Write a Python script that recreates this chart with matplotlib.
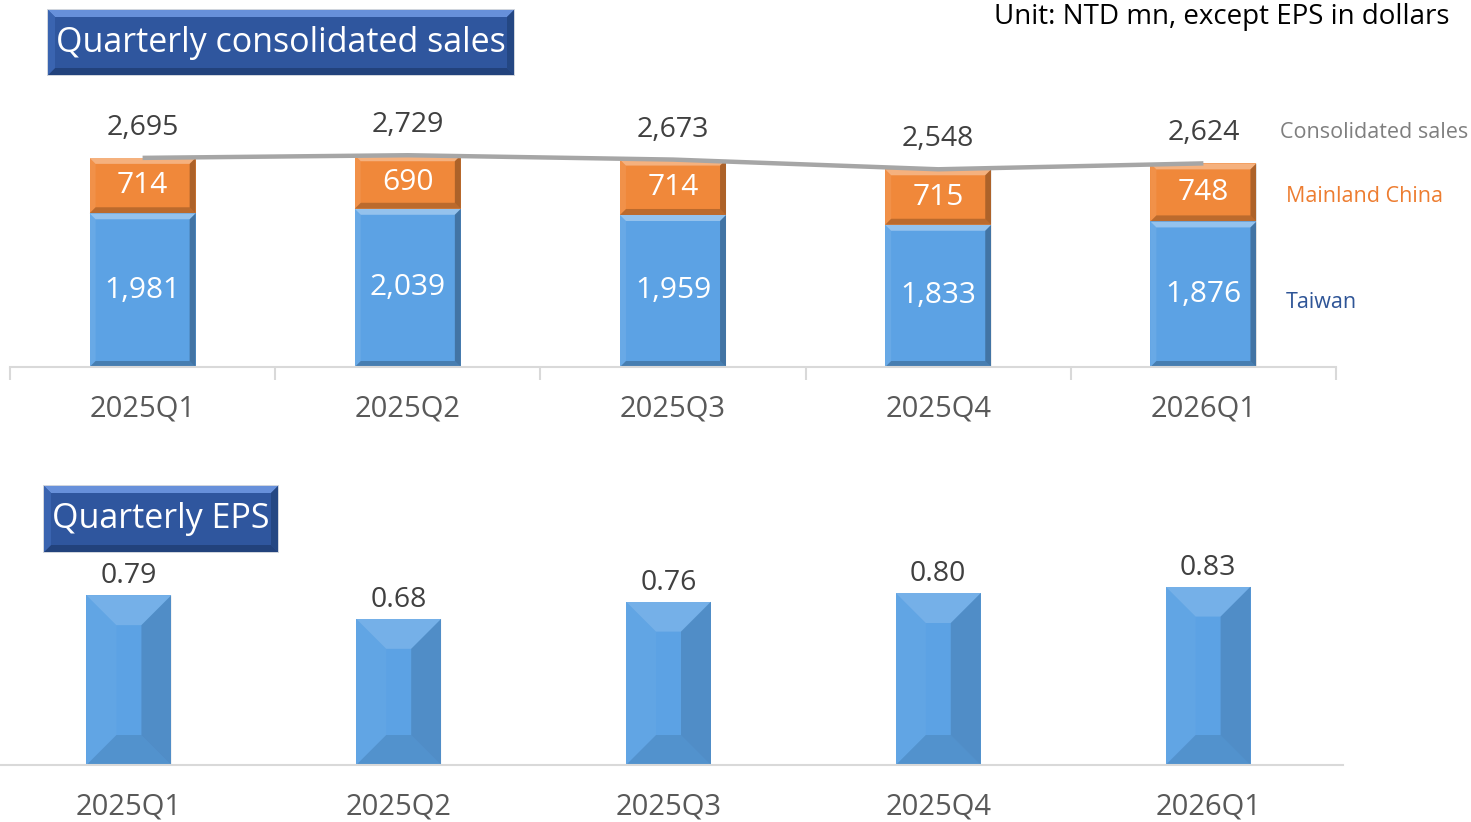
import matplotlib
matplotlib.use("Agg")
import matplotlib.pyplot as plt
from matplotlib.patches import Polygon, Rectangle
from matplotlib.transforms import IdentityTransform

plt.rcParams['font.family'] = ['Open Sans', 'DejaVu Sans']

quarters = ["2025Q1", "2025Q2", "2025Q3", "2025Q4", "2026Q1"]
taiwan = [1981, 2039, 1959, 1833, 1876]
mainland = [714, 690, 714, 715, 748]
consolidated = [2695, 2729, 2673, 2548, 2624]
eps = [0.79, 0.68, 0.76, 0.80, 0.83]

BLUE = "#5ca2e4"
ORANGE = "#f0883a"
TXT = "#595959"

W, H = 1471, 822
fig = plt.figure(figsize=(W / 100, H / 100), dpi=100)


def px_axes(x0, x1, top, bottom):
    # axes rectangle from pixel coords (top-left origin)
    return fig.add_axes([x0 / W, 1 - bottom / H, (x1 - x0) / W, (bottom - top) / H])


def bevel(ax, bars, d, k=1.0):
    for p in bars:
        (x0, y0) = ax.transData.transform((p.get_x(), p.get_y()))
        (x1, y1) = ax.transData.transform((p.get_x() + p.get_width(), p.get_y() + p.get_height()))
        dd = min(d, (x1 - x0) / 2, (y1 - y0) / 2)
        parts = [
            ([(x0, y1), (x1, y1), (x1 - dd, y1 - dd), (x0 + dd, y1 - dd)], "white", 0.35),
            ([(x1, y1), (x1, y0), (x1 - dd, y0 + dd), (x1 - dd, y1 - dd)], "black", 0.28),
            ([(x0, y0), (x1, y0), (x1 - dd, y0 + dd), (x0 + dd, y0 + dd)], "black", 0.22),
            ([(x0, y0), (x0, y1), (x0 + dd, y1 - dd), (x0 + dd, y0 + dd)], "white", 0.08),
        ]
        for pts, c, a in parts:
            ax.add_patch(Polygon(pts, closed=True, facecolor=c, alpha=a * k, edgecolor="none",
                                 transform=IdentityTransform(), zorder=2.5, clip_on=False))


def title_box(x0, x1, top, bottom, text, size):
    y0, y1 = H - bottom, H - top
    d = 7
    fig.patches.append(Rectangle((x0 - 1, y0 - 1), x1 - x0 + 2, y1 - y0 + 2, facecolor="#d0d5dd",
                                 edgecolor="none", transform=IdentityTransform(), figure=fig))
    fig.patches.append(Rectangle((x0, y0), x1 - x0, y1 - y0, facecolor="#2f569e", edgecolor="none",
                                 transform=IdentityTransform(), figure=fig))
    for pts, c in [
        ([(x0, y1), (x1, y1), (x1 - d, y1 - d), (x0 + d, y1 - d)], "#6790da"),
        ([(x1, y1), (x1, y0), (x1 - d, y0 + d), (x1 - d, y1 - d)], "#244783"),
        ([(x0, y0), (x1, y0), (x1 - d, y0 + d), (x0 + d, y0 + d)], "#22427c"),
        ([(x0, y0), (x0, y1), (x0 + d, y1 - d), (x0 + d, y0 + d)], "#3a64b0"),
    ]:
        fig.patches.append(Polygon(pts, closed=True, facecolor=c, edgecolor="none",
                                   transform=IdentityTransform(), figure=fig))
    fig.text((x0 + x1) / 2 / W, 1 - (top + bottom) / 2 / H, text, color="white", fontsize=size,
             ha="center", va="center")


# ---- top: consolidated sales ----
ax1 = px_axes(10, 1336, 95, 367)
x = list(range(len(quarters)))
b1 = ax1.bar(x, taiwan, width=0.4, color=BLUE, zorder=2)
b2 = ax1.bar(x, mainland, width=0.4, bottom=taiwan, color=ORANGE, zorder=2)
ax1.set_xlim(-0.5, 4.5)
ax1.set_ylim(0, 272 / 0.0776)
ax1.bar_label(b1, fmt="{:,.0f}", label_type="center", color="white", fontsize=21.5, zorder=5)
ax1.bar_label(b2, fmt="{:,.0f}", label_type="center", color="white", fontsize=21.5, zorder=5)
ax1.plot(x, consolidated, color="#a6a6a6", lw=3.2, zorder=4, solid_capstyle="butt")
for i, v in enumerate(consolidated):
    ax1.annotate(f"{v:,}", (i, v), xytext=(0, 30), textcoords="offset pixels", ha="center",
                 va="center", fontsize=20.5, color="#404040")
ax1.set_xticks([i - 0.5 for i in range(6)])
ax1.set_xticklabels([])
ax1.set_xticks(x, minor=True)
ax1.set_xticklabels(quarters, minor=True)
ax1.tick_params(axis="x", which="major", length=9, color="#d9d9d9", width=1.5)
ax1.tick_params(axis="x", which="minor", length=0, pad=20, labelsize=21, labelcolor=TXT)
ax1.set_yticks([])
for s in ["top", "right", "left"]:
    ax1.spines[s].set_visible(False)
ax1.spines["bottom"].set_color("#d9d9d9")
ax1.spines["bottom"].set_linewidth(1.5)
ax1.patch.set_alpha(0)

# legend-like labels
fig.text(1280 / W, 1 - 132 / H, "Consolidated sales", color="#7f7f7f", fontsize=15.5, va="center")
fig.text(1286 / W, 1 - 196 / H, "Mainland China", color="#ed7d31", fontsize=15.5, va="center")
fig.text(1286 / W, 1 - 302 / H, "Taiwan", color="#2f5597", fontsize=15.5, va="center")
fig.text(1450 / W, 1 - 17 / H, "Unit: NTD mn, except EPS in dollars", color="black",
         fontsize=20, ha="right", va="center")

# ---- bottom: EPS ----
ax2 = px_axes(-6, 1343, 500, 765)
b3 = ax2.bar(x, eps, width=0.315, color=BLUE, zorder=2)
ax2.set_xlim(-0.5, 4.5)
ax2.set_ylim(0, 265 / 215)
for i, v in enumerate(eps):
    ax2.annotate(f"{v:.2f}", (i, v), xytext=(0, 19), textcoords="offset pixels", ha="center",
                 va="center", fontsize=20.5, color="#404040")
ax2.set_xticks(x)
ax2.set_xticklabels(quarters)
ax2.tick_params(axis="x", length=0, pad=20, labelsize=21, labelcolor=TXT)
ax2.set_yticks([])
for s in ["top", "right", "left"]:
    ax2.spines[s].set_visible(False)
ax2.spines["bottom"].set_color("#d9d9d9")
ax2.spines["bottom"].set_linewidth(1.5)
ax2.patch.set_alpha(0)

fig.canvas.draw()
bevel(ax1, b1, 6)
bevel(ax1, b2, 6)
bevel(ax2, b3, 30, k=0.45)

title_box(48, 514, 10, 75, "Quarterly consolidated sales", 24.5)
title_box(44, 278, 486, 552, "Quarterly EPS", 24.5)

fig.savefig("out.png", dpi=100)
